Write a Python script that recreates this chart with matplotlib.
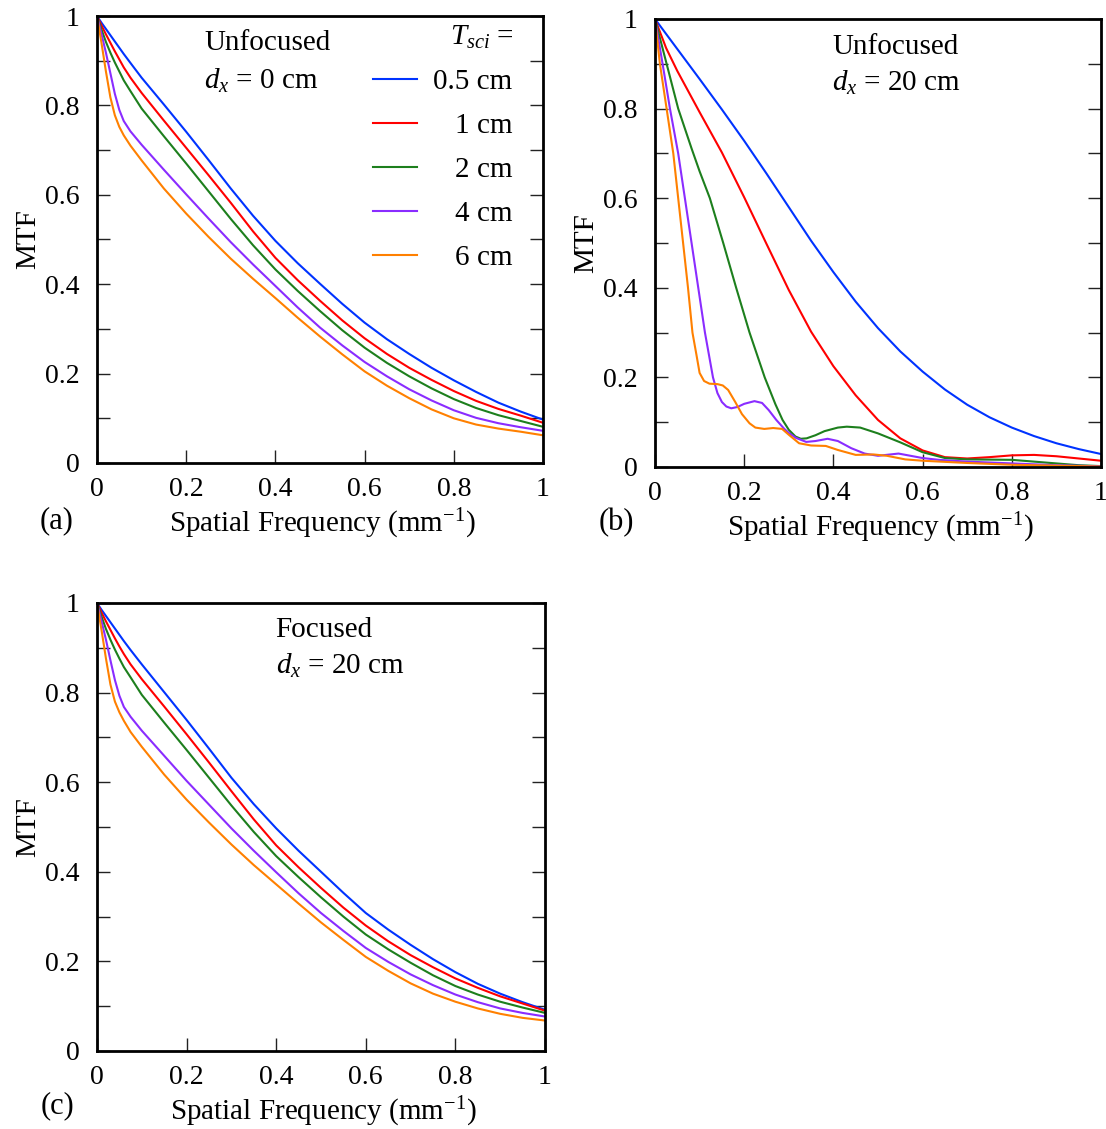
import matplotlib
matplotlib.use('Agg')
import matplotlib.pyplot as plt
from matplotlib.ticker import MultipleLocator, FuncFormatter

plt.rcParams['font.family'] = 'Liberation Serif'
plt.rcParams['mathtext.fontset'] = 'custom'
plt.rcParams['mathtext.rm'] = 'Liberation Serif'
plt.rcParams['mathtext.it'] = 'Liberation Serif:italic'

colors = ['#0033ff', '#ff0000', '#1d7f1d', '#8a2cff', '#ff8000']
# the short labels are pushed right by the width of "0." so they line up on the right
labels = ['0.5 cm', r'$\hspace{1.04}$1 cm', r'$\hspace{1.04}$2 cm',
          r'$\hspace{1.04}$4 cm', r'$\hspace{1.04}$6 cm']

# panels (a) and (c): common frequency grid
freq = [0, 0.01, 0.02, 0.03, 0.04, 0.05, 0.06, 0.075, 0.1, 0.15, 0.2, 0.25,
        0.3, 0.35, 0.4, 0.45, 0.5, 0.55, 0.6, 0.65, 0.7, 0.75, 0.8, 0.85,
        0.9, 0.95, 1.0]

a_05 = [1, .985, .971, .957, .943, .929, .915, .895, .862, .802, .741, .678,
        .614, .553, .497, .447, .401, .356, .314, .277, .244, .213, .185, .159,
        .135, .115, .097]
a_1 = [1, .979, .959, .94, .921, .903, .885, .862, .828, .766, .705, .644,
       .582, .518, .459, .409, .363, .319, .279, .244, .213, .186, .161, .139,
       .121, .106, .09]
a_2 = [1, .97, .942, .918, .896, .876, .856, .832, .793, .731, .67, .608,
       .546, .487, .433, .385, .34, .297, .258, .224, .194, .167, .143, .123,
       .107, .094, .081]
a_4 = [1, .96, .918, .872, .826, .79, .765, .742, .712, .656, .601, .547,
       .494, .444, .396, .348, .303, .263, .226, .194, .165, .14, .118, .101,
       .089, .08, .072]
a_6 = [1, .94, .876, .818, .778, .752, .733, .71, .677, .614, .558, .506,
       .457, .412, .369, .325, .283, .243, .205, .173, .145, .12, .1, .086,
       .077, .07, .062]

c_05 = [1, .985, .971, .957, .943, .929, .915, .895, .863, .801, .739, .675,
        .61, .551, .497, .447, .4, .353, .308, .271, .237, .205, .176, .15,
        .128, .109, .092]
c_1 = [1, .979, .959, .94, .921, .903, .886, .863, .83, .769, .707, .644,
       .58, .517, .459, .41, .364, .32, .28, .245, .214, .187, .162, .141,
       .122, .106, .09]
c_2 = [1, .97, .942, .918, .896, .876, .857, .834, .795, .733, .672, .61,
       .548, .489, .435, .388, .343, .3, .26, .227, .197, .169, .145, .126,
       .11, .097, .085]
c_4 = [1, .96, .918, .872, .828, .793, .768, .746, .715, .659, .603, .55,
       .497, .447, .399, .352, .308, .268, .23, .199, .171, .147, .126, .109,
       .095, .085, .077]
c_6 = [1, .94, .876, .818, .78, .756, .737, .712, .679, .617, .561, .51,
       .461, .415, .372, .329, .287, .248, .21, .179, .151, .128, .11, .095,
       .083, .074, .068]

# panel (b): unfocused, dx = 20 cm
b_05_f = [0, 0.05, 0.1, 0.15, 0.2, 0.25, 0.3, 0.35, 0.4, 0.45, 0.5, 0.55, 0.6,
          0.65, 0.7, 0.75, 0.8, 0.85, 0.9, 0.95, 1.0]
b_05 = [1, .933, .866, .798, .728, .655, .58, .505, .435, .369, .31, .258,
        .213, .173, .139, .111, .088, .069, .053, .04, .029]
b_1_f = [0, 0.025, 0.05, 0.1, 0.15, 0.2, 0.25, 0.3, 0.35, 0.4, 0.45, 0.5,
         0.55, 0.6, 0.65, 0.7, 0.75, 0.8, 0.85, 0.9, 0.95, 1.0]
b_1 = [1, .935, .884, .792, .702, .602, .498, .395, .302, .225, .16, .105,
       .064, .037, .022, .019, .022, .026, .027, .024, .019, .014]
b_2_f = [0, 0.013, 0.026, 0.052, 0.082, 0.1, 0.123, 0.153, 0.182, 0.212,
         0.246, 0.27, 0.286, 0.3, 0.315, 0.327, 0.34, 0.36, 0.38, 0.41, 0.43,
         0.46, 0.5, 0.55, 0.6, 0.65, 0.7, 0.8, 0.85, 0.9, 0.95, 1.0]
b_2 = [1, .95, .9, .8, .711, .66, .6, .5, .4, .3, .2, .14, .105, .083, .068,
       .063, .064, .071, .08, .088, .09, .088, .075, .055, .033, .02, .017,
       .016, .012, .008, .004, .002]
b_4_f = [0, 0.017, 0.0335, 0.052, 0.067, 0.082, 0.097, 0.112, 0.13, 0.14,
         0.15, 0.16, 0.171, 0.185, 0.2, 0.223, 0.24, 0.255, 0.272, 0.29, 0.3,
         0.316, 0.339, 0.36, 0.387, 0.41, 0.44, 0.47, 0.5, 0.546, 0.6, 0.636,
         0.7, 0.8, 0.9, 1.0]
b_4 = [1, .9, .8, .7, .6, .5, .4, .3, .2, .165, .145, .135, .131, .134, .141,
       .147, .143, .127, .105, .085, .076, .065, .056, .058, .063, .058, .042,
       .03, .025, .03, .02, .016, .012, .008, .004, .0015]
b_6_f = [0, 0.011, 0.026, 0.041, 0.052, 0.063, 0.074, 0.084, 0.093, 0.1, 0.11,
         0.122, 0.14, 0.152, 0.164, 0.18, 0.195, 0.212, 0.225, 0.245, 0.265,
         0.285, 0.3, 0.323, 0.35, 0.383, 0.41, 0.45, 0.49, 0.52, 0.561, 0.6,
         0.7, 0.8, 0.9, 1.0]
b_6 = [1, .9, .8, .7, .6, .5, .4, .3, .25, .21, .192, .186, .185, .182, .172,
       .145, .118, .0975, .088, .085, .087, .085, .072, .053, .048, .047, .038,
       .027, .028, .025, .017, .014, .009, .005, .003, .001]


def style(ax):
    ax.set_xlim(0, 1)
    ax.set_ylim(0, 1)
    ax.xaxis.set_major_locator(MultipleLocator(0.2))
    ax.yaxis.set_major_locator(MultipleLocator(0.2))
    ax.yaxis.set_minor_locator(MultipleLocator(0.1))
    fmt = FuncFormatter(lambda v, p: '%g' % round(v, 2))
    ax.xaxis.set_major_formatter(fmt)
    ax.yaxis.set_major_formatter(fmt)
    ax.tick_params(axis='both', which='both', direction='in', length=9.5,
                   width=1, labelsize=20, color='#222222')
    ax.tick_params(axis='x', which='major', pad=10)
    ax.tick_params(axis='y', which='major', pad=12.5)
    ax.tick_params(axis='y', which='both', left=True, right=True)
    for s in ax.spines.values():
        s.set_linewidth(2)
    ax.set_ylabel('MTF', fontsize=21)
    ax.yaxis.set_label_coords(-0.125, 0.5)
    ax.set_xlabel(r'Spatial Frequency (mm$^{\mathregular{-1}}$)', fontsize=21)
    ax.xaxis.set_label_coords(0.505, -0.098)


fig = plt.figure(figsize=(11.06, 11.29), dpi=100)
axa = fig.add_axes([97/1106, 1-463/1129, 446/1106, 447/1129])
axb = fig.add_axes([655/1106, 1-467/1129, 446/1106, 448/1129])
axc = fig.add_axes([97/1106, 1-1051/1129, 448/1106, 448/1129])

lines = []
for ys, col, lab in zip([a_05, a_1, a_2, a_4, a_6], colors, labels):
    ln, = axa.plot(freq, ys, color=col, lw=1.5, label=lab)
    lines.append(ln)
for xs, ys, col in zip([b_05_f, b_1_f, b_2_f, b_4_f, b_6_f],
                       [b_05, b_1, b_2, b_4, b_6], colors):
    axb.plot(xs, ys, color=col, lw=1.5)
for ys, col in zip([c_05, c_1, c_2, c_4, c_6], colors):
    axc.plot(freq, ys, color=col, lw=1.5)

for ax in (axa, axb, axc):
    style(ax)

axa.legend(handles=lines, title=r'$T_{sci}$ =', loc='upper right',
           bbox_to_anchor=(0.935, 0.982), frameon=False, fontsize=21,
           title_fontsize=21, handlelength=1.5, handletextpad=0.55,
           labelspacing=0.6, borderpad=0, borderaxespad=0, alignment='right')

axa.text(0.24, 0.94, 'Unfocused', transform=axa.transAxes, fontsize=21,
         ha='left', va='center')
axa.text(0.24, 0.855, r'$d_x$ = 0 cm', transform=axa.transAxes, fontsize=21,
         ha='left', va='center')
axb.text(0.397, 0.938, 'Unfocused', transform=axb.transAxes, fontsize=21,
         ha='left', va='center')
axb.text(0.397, 0.858, r'$d_x$ = 20 cm', transform=axb.transAxes, fontsize=21,
         ha='left', va='center')
axc.text(0.397, 0.94, 'Focused', transform=axc.transAxes, fontsize=21,
         ha='left', va='center')
axc.text(0.4, 0.86, r'$d_x$ = 20 cm', transform=axc.transAxes, fontsize=21,
         ha='left', va='center')

fig.text(57/1106, 1-521/1129, '(a)', fontsize=22, ha='center', va='center')
fig.text(616/1106, 1-523/1129, '(b)', fontsize=22, ha='center', va='center')
fig.text(57/1106, 1-1106/1129, '(c)', fontsize=22, ha='center', va='center')

fig.savefig('out.png', dpi=100)
